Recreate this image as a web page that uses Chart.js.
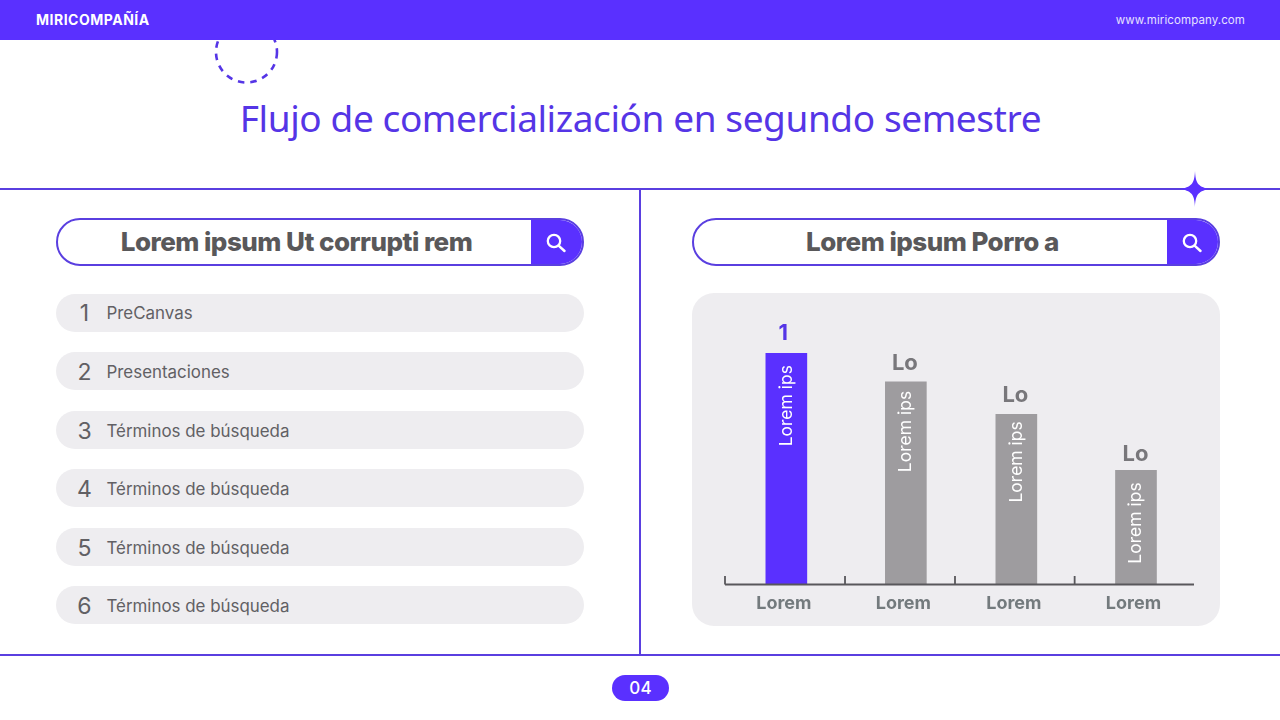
<!DOCTYPE html>
<html lang="es"><head><meta charset="utf-8">
<script src="https://cdn.jsdelivr.net/npm/chart.js@4"></script>
<style>
html,body{margin:0;padding:0;background:#fff;width:1280px;height:720px;overflow:hidden}
#page{position:relative;width:1280px;height:720px;font-family:Inter,sans-serif;overflow:hidden}
.abs{position:absolute}
#top{left:0;top:0;width:1280px;height:40px;background:#5a30ff;z-index:2}
#brand{left:36px;top:11px;color:#fff;font:700 14px/18px Inter;letter-spacing:.5px}
#url{right:35px;top:12px;color:#e6e0ff;font:400 11.5px/16px Inter;letter-spacing:.1px}
#title{left:0;width:1281px;top:92px;text-align:center;color:#5535e6;font:400 37px/52px "Noto Sans";letter-spacing:-.41px}
.hl{left:0;width:1280px;height:2px;background:#5a3fe0}
.search{height:44px;width:524px;border:2px solid #5a3fe0;border-radius:24px;overflow:hidden;background:#fff;box-sizing:content-box}
.search span{position:absolute;left:0;width:477px;top:0;text-align:center;font:800 26px/44px Inter;color:#59585a;letter-spacing:-.52px}
.search i{position:absolute;right:0;top:0;width:51px;height:44px;background:#5a30ff;display:block}
.search svg{position:absolute;left:14px;top:12px}
.row{left:56px;width:528px;height:38px;background:#eeedf0;border-radius:19px;color:#616064}
.row b{position:absolute;left:0;width:57px;text-align:center;font:400 23px/39px Inter}
.row span{position:absolute;left:50.5px;font:400 16.9px/39px Inter}
.row:not(:first-child) b,.row:not(:first-child) span{top:1px}
#panel{left:692px;top:293px;width:528px;height:333px;background:#eeedf0;border-radius:22px}
#wrap{left:692px;top:293px;width:528px;height:333px}
#pill{left:612px;top:675px;width:57px;height:26px;border-radius:13px;background:#5a30ff;color:#fff;text-align:center;font:500 17px/26px Inter;letter-spacing:.3px}
</style></head><body>
<div id="page">
<svg class="abs" style="left:205px;top:10px" width="84" height="84"><circle cx="41.5" cy="42" r="30.5" fill="none" stroke="#5535e6" stroke-width="2.6" stroke-dasharray="6.5 6"/></svg>
<div id="top" class="abs"><div id="brand" class="abs">MIRICOMPAÑÍA</div><div id="url" class="abs">www.miricompany.com</div></div>
<div id="title" class="abs">Flujo de comercialización en segundo semestre</div>
<div class="abs hl" style="top:188px"></div>
<div class="abs hl" style="top:654px"></div>
<div class="abs" style="left:639px;top:189px;width:2px;height:466px;background:#5a3fe0"></div>
<svg class="abs" style="left:1180px;top:171px" width="30" height="36"><path d="M15 0C15.6 11 17 15.5 29 18C17 20.5 15.6 25 15 36C14.4 25 13 20.5 1 18C13 15.5 14.4 11 15 0Z" fill="#5a30ff"/></svg>
<div id="searchL" class="abs search" style="left:56px;top:218px"></div>
<div id="searchR" class="abs search" style="left:692px;top:218px"></div>
<div id="rows"></div>
<div id="panel" class="abs"></div>
<div id="wrap" class="abs"><canvas id="c" width="528" height="333"></canvas></div>
<div id="pill" class="abs">04</div>
</div>
<script>
const categories = ['Lorem', 'Lorem', 'Lorem', 'Lorem'];
const values = [100, 87.5, 73.5, 49.2];
const valueLabels = ['1', 'Lo', 'Lo', 'Lo'];
const barLabels = ['Lorem ips', 'Lorem ips', 'Lorem ips', 'Lorem ips'];
const barColors = ['#5a30ff', '#9e9c9f', '#9e9c9f', '#9e9c9f'];
const listNumbers = ['1', '2', '3', '4', '5', '6'];
const listItems = ['PreCanvas', 'Presentaciones', 'Términos de búsqueda', 'Términos de búsqueda', 'Términos de búsqueda', 'Términos de búsqueda'];
const searchTitles = ['Lorem ipsum Ut corrupti rem', 'Lorem ipsum Porro a'];

const rowTops = [294, 352, 411, 469, 528, 586];
const lens = '<i><svg width="22" height="22" viewBox="0 0 22 22"><circle cx="9" cy="9" r="6.2" fill="none" stroke="#fff" stroke-width="2.3"/><path d="M13.6 13.6L19.5 19" stroke="#fff" stroke-width="2.5" stroke-linecap="round"/></svg></i>';
document.getElementById('searchL').innerHTML = '<span>' + searchTitles[0] + '</span>' + lens;
document.getElementById('searchR').innerHTML = '<span>' + searchTitles[1] + '</span>' + lens;
document.getElementById('rows').innerHTML = listItems.map((t, i) =>
  '<div class="abs row" style="top:' + rowTops[i] + 'px"><b>' + listNumbers[i] + '</b><span>' + t + '</span></div>').join('');

// Category scale whose bands have the unequal widths of the reference's axis pieces.
const bandCentres = [0.1308, 0.3856, 0.6212, 0.8763];
const bandStarts = [0, 0.2559, 0.4904, 0.7455];
class BandScale extends Chart.CategoryScale {
  getPixelForValue(v) {
    const i = typeof v === 'number' ? v : this.parse(v);
    return this.left + bandCentres[i] * this.width;
  }
  afterFit() { super.afterFit && super.afterFit(); this.height = 42; }
}
BandScale.id = 'band';
BandScale.defaults = Chart.CategoryScale.defaults;
Chart.register(BandScale);

const gapTop = [12, 9, 7, 12];
const labelGap = [13, 12, 12, 9];
const labelShift = [-3, -1, -1, -0.5];
const marks = {
  id: 'marks',
  afterDatasetsDraw(chart) {
    const { ctx, scales: { x, y } } = chart;
    const base = y.getPixelForValue(0);
    ctx.save();
    ctx.strokeStyle = '#58575b';
    ctx.lineWidth = 1.8;
    ctx.beginPath();
    ctx.moveTo(x.left, base + 0.5); ctx.lineTo(x.right, base + 0.5);
    bandStarts.forEach(f => {
      const px = x.left + f * x.width;
      ctx.moveTo(px, base + 0.5); ctx.lineTo(px, base - 8);
    });
    ctx.stroke();
    chart.getDatasetMeta(0).data.forEach((bar, i) => {
      ctx.font = '700 22px Inter';
      ctx.textAlign = 'center';
      ctx.textBaseline = 'alphabetic';
      ctx.fillStyle = i === 0 ? '#5535e6' : '#78777b';
      ctx.fillText(valueLabels[i], bar.x + labelShift[i], bar.y - labelGap[i]);
      ctx.save();
      ctx.translate(bar.x, bar.y + gapTop[i]);
      ctx.rotate(-Math.PI / 2);
      ctx.font = '400 17.5px Inter';
      ctx.fillStyle = '#fff';
      ctx.textAlign = 'right';
      ctx.textBaseline = 'middle';
      ctx.fillText(barLabels[i], 0, 0);
      ctx.restore();
    });
    ctx.restore();
  }
};

new Chart(document.getElementById('c'), {
  type: 'bar',
  data: { labels: categories, datasets: [{ data: values, backgroundColor: barColors, barThickness: 41, borderWidth: 0 }] },
  options: {
    responsive: false, animation: false, devicePixelRatio: 1,
    layout: { padding: { left: 33, right: 26, top: 60, bottom: 0 } },
    plugins: { legend: { display: false }, tooltip: { enabled: false } },
    scales: {
      x: { type: 'band', grid: { display: false }, border: { display: false },
           ticks: { color: '#737a7d', font: { family: 'Inter', size: 18, weight: '700' }, labelOffset: -2.5, padding: 1, maxRotation: 0 } },
      y: { display: false, min: 0, max: 100 }
    }
  },
  plugins: [marks]
});
</script>
</body></html>
